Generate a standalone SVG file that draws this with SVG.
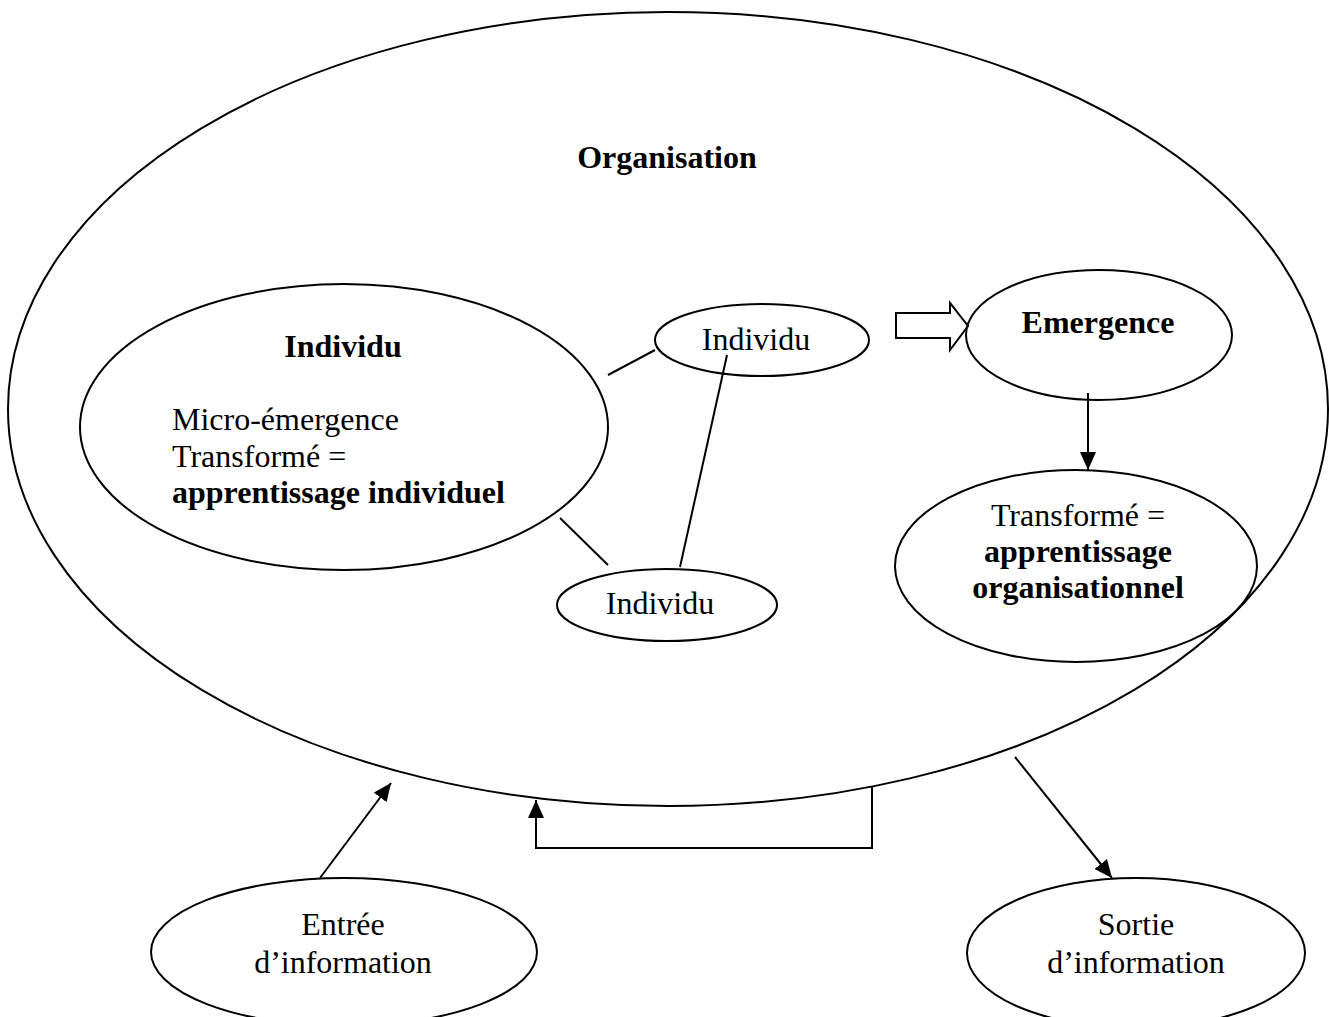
<svg xmlns="http://www.w3.org/2000/svg" width="1329" height="1017" viewBox="0 0 1329 1017">
<style>
  .shape { fill: none; stroke: #000; stroke-width: 2; }
  .node { fill: #fff; stroke: #000; stroke-width: 2; }
  .t { font-family: "Liberation Serif", "Times New Roman", serif; font-size: 32px; fill: #000; }
  .b { font-weight: bold; }
  .c { text-anchor: middle; }
  .conn { fill: none; stroke: #000; stroke-width: 2; }
</style>
<defs>
  <marker id="arrow" markerUnits="userSpaceOnUse" markerWidth="20" markerHeight="16" refX="18" refY="8" orient="auto">
    <path d="M0,0 L18,8 L0,16 Z" fill="#000"/>
  </marker>
</defs>
<rect width="1329" height="1017" fill="#fff"/>

<g id="organisation">
  <ellipse class="shape" cx="668" cy="409" rx="660" ry="397"/>
  <text class="t b c" x="667" y="168">Organisation</text>
</g>

<g id="individu-main">
  <ellipse class="shape" cx="344" cy="427" rx="264" ry="143"/>
  <text class="t b c" x="343" y="357">Individu</text>
  <text class="t" x="172" y="430">Micro-émergence</text>
  <text class="t" x="172" y="467">Transformé =</text>
  <text class="t b" x="172" y="503">apprentissage individuel</text>
</g>

<g id="individu-top">
  <ellipse class="shape" cx="762" cy="340" rx="107" ry="36"/>
  <text class="t c" x="756" y="350">Individu</text>
</g>

<g id="individu-bottom">
  <ellipse class="shape" cx="667" cy="605" rx="110" ry="36"/>
  <text class="t c" x="660" y="614">Individu</text>
</g>

<g id="emergence">
  <ellipse class="shape" cx="1099" cy="335" rx="133" ry="65"/>
  <text class="t b c" x="1098" y="333">Emergence</text>
</g>

<g id="apprentissage-organisationnel">
  <ellipse class="shape" cx="1076" cy="566" rx="181" ry="96"/>
  <text class="t c" x="1078" y="526">Transformé =</text>
  <text class="t b c" x="1078" y="562">apprentissage</text>
  <text class="t b c" x="1078" y="598">organisationnel</text>
</g>

<g id="entree">
  <ellipse class="node" cx="344" cy="952" rx="193" ry="74"/>
  <text class="t c" x="343" y="935">Entrée</text>
  <text class="t c" x="343" y="973">d’information</text>
</g>

<g id="sortie">
  <ellipse class="node" cx="1136" cy="953" rx="169" ry="75"/>
  <text class="t c" x="1136" y="935">Sortie</text>
  <text class="t c" x="1136" y="973">d’information</text>
</g>

<g id="connectors">
  <line class="conn" x1="608" y1="375" x2="655" y2="350"/>
  <line class="conn" x1="560" y1="518" x2="608" y2="565"/>
  <line class="conn" x1="727" y1="355" x2="680" y2="567"/>
  <path class="conn" d="M896,313 H950 V303 L968,326 L950,350 V338 H896 Z"/>
  <line class="conn" x1="1088" y1="393" x2="1088" y2="470" marker-end="url(#arrow)"/>
  <line class="conn" x1="320" y1="878" x2="391" y2="783" marker-end="url(#arrow)"/>
  <path class="conn" d="M872,787 V848 H536 V800" marker-end="url(#arrow)"/>
  <line class="conn" x1="1015" y1="757" x2="1112" y2="878" marker-end="url(#arrow)"/>
</g>
</svg>
